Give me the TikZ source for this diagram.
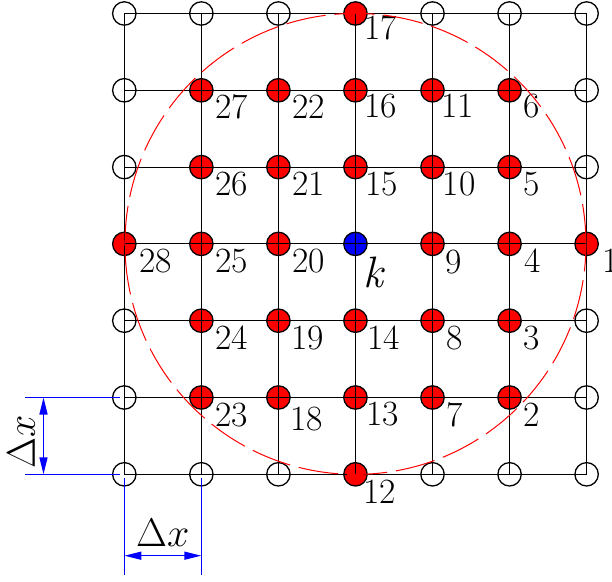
\RequirePackage{fix-cm}
\documentclass[tikz,border=0pt]{standalone}
\usetikzlibrary{arrows.meta}
\definecolor{pred}{RGB}{255,0,0}
\definecolor{pblue}{RGB}{0,0,255}
\begin{document}
\begin{tikzpicture}[x=1pt,y=1pt,
  pt/.style={circle,draw=black,line width=1.3pt,minimum size=23.4pt,inner sep=0pt},
  openpt/.style={pt,fill=white},
  hitpt/.style={pt,fill=pred},
  ctrpt/.style={pt,fill=pblue},
  gridline/.style={draw=black,line width=1.1pt},
  num/.style={font=\fontsize{35.5}{35.5}\selectfont,anchor=base west,inner sep=0pt},
  dimline/.style={draw=pblue,line width=1.4pt},
  dimarrow/.style={dimline,{Triangle[length=17pt,width=8pt]}-{Triangle[length=17pt,width=8pt]}},
  dimlabel/.style={font=\fontsize{40}{40}\selectfont,anchor=base,inner sep=0pt},
  ring/.style={draw=pred,line width=1pt,dash pattern=on 40pt off 9pt},
]
\useasboundingbox (0,0) rectangle (612,581);

% open circles
\foreach \i/\j in {0/0,1/0,2/0,4/0,5/0,6/0,0/1,6/1,0/2,6/2,0/4,6/4,0/5,6/5,0/6,1/6,2/6,4/6,5/6,6/6}
  \node[openpt] (g-\i-\j) at ({124.3+77.05*\i},{567.5-76.8*\j}) {};

% red points with labels
\foreach \i/\j/\lab/\dx/\dy in {
  3/0/17/8.5/26.5,
  1/1/27/14/28, 2/1/22/14/28, 3/1/16/8.7/27.5, 4/1/11/8.7/27.5, 5/1/6/14/27,
  1/2/26/14/28, 2/2/21/14/28, 3/2/15/10/28, 4/2/10/10/28, 5/2/5/14/28,
  0/3/28/15/29, 1/3/25/14/29, 2/3/20/14/29, 4/3/9/13/30, 5/3/4/15/29, 6/3/1/16/29,
  1/4/24/14/29, 2/4/19/13/29, 3/4/14/12/29, 4/4/8/14/29, 5/4/3/14/29,
  1/5/23/14/29, 2/5/18/11.5/33, 3/5/13/10.5/28, 4/5/7/14/29, 5/5/2/14/29,
  3/6/12/8/29}
{
  \node[hitpt] (g-\i-\j) at ({124.3+77.05*\i},{567.5-76.8*\j}) {};
  \node[num] (l-\lab) at ([shift={(\dx,-\dy)}]g-\i-\j.center) {\lab};
}

% centre point k
\node[ctrpt] (g-3-3) at ({124.3+77.05*3},{567.5-76.8*3}) {};
\node[font=\fontsize{44}{44}\selectfont\itshape,anchor=base west,inner sep=0pt] (lk)
  at ([shift={(8,-44)}]g-3-3.center) {k};

% grid lines
\foreach \k in {0,...,6} {
  \draw[gridline] (g-0-\k.center) -- (g-6-\k.center);
  \draw[gridline] (g-\k-0.center) -- (g-\k-6.center);
}

% dashed influence circle
\draw[ring] (g-3-3.center) circle[radius=230.5pt];

% vertical dimension (left)
\coordinate (dl1) at (25,{567.5-76.8*5});
\coordinate (dl2) at (25,{567.5-76.8*6});
\coordinate (va1) at (43.5,{567.5-76.8*5});
\coordinate (va2) at (43.5,{567.5-76.8*6});
\draw[dimline] (dl1) -- ([xshift=-4pt]g-0-5.center);
\draw[dimline] (dl2) -- ([xshift=-4pt]g-0-6.center);
\draw[dimarrow] (va1) -- (va2);
\node[dimlabel,rotate=90] (dxl) at (35,139.5) {$\Delta x$};

% horizontal dimension (bottom)
\coordinate (bl1) at (124.3,6);
\coordinate (bl2) at (201.35,6);
\coordinate (ha1) at (124.3,25.3);
\coordinate (ha2) at (201.35,25.3);
\draw[dimline] ([yshift=-4pt]g-0-6.center) -- (bl1);
\draw[dimline] ([yshift=-4pt]g-1-6.center) -- (bl2);
\draw[dimarrow] (ha1) -- (ha2);
\node[dimlabel] (dxb) at (162.8,34.3) {$\Delta x$};
\end{tikzpicture}
\end{document}
